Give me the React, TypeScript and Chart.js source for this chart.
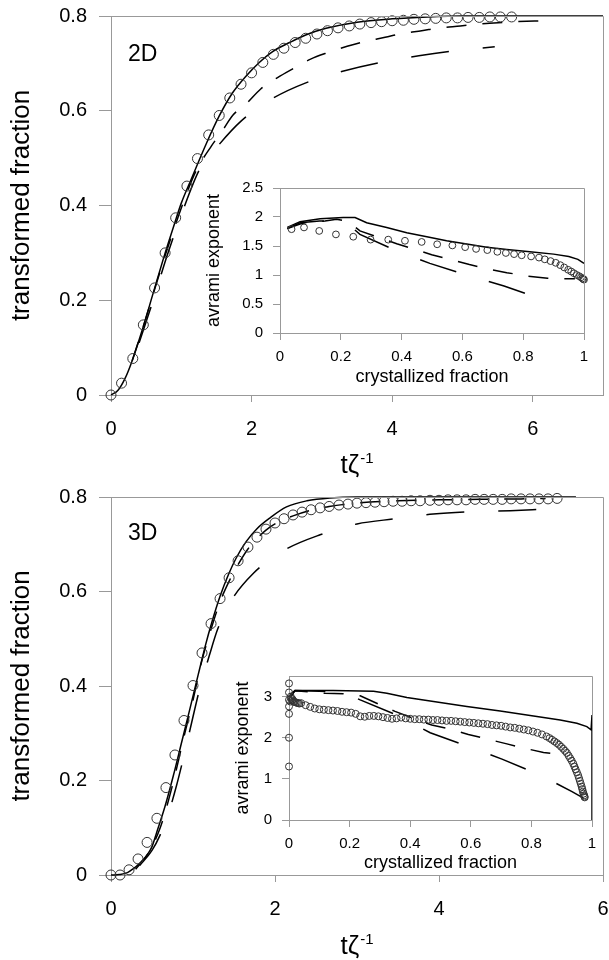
import React, { useEffect, useRef } from 'react';
import { Chart, registerables } from 'chart.js';

Chart.register(...registerables);

const FONT = '"Liberation Sans", Arial, Helvetica, sans-serif';

// ---------------- 2D main panel ----------------
const t2dCirc = [0, 0.15, 0.31, 0.46, 0.62, 0.77, 0.92, 1.08, 1.23, 1.39, 1.54, 1.69, 1.85, 2.0, 2.16, 2.31, 2.46, 2.62, 2.77, 2.93, 3.08, 3.23, 3.39, 3.54, 3.7, 3.85, 4.0, 4.16, 4.31, 4.47, 4.62, 4.77, 4.93, 5.08, 5.24, 5.39, 5.54, 5.7];
const f2dCirc = [0, 0.025, 0.077, 0.148, 0.226, 0.3, 0.374, 0.441, 0.499, 0.549, 0.59, 0.627, 0.656, 0.68, 0.702, 0.719, 0.732, 0.744, 0.753, 0.762, 0.769, 0.775, 0.779, 0.783, 0.786, 0.788, 0.79, 0.791, 0.793, 0.794, 0.795, 0.796, 0.796, 0.797, 0.797, 0.798, 0.798, 0.798];
const t2dSolid = [0, 0.1, 0.2, 0.3, 0.45, 0.6, 0.75, 0.9, 1.0, 1.14, 1.36, 1.54, 1.73, 1.92, 2.11, 2.3, 2.54, 2.77, 3.06, 3.5, 4.0, 4.5, 5.0, 7.0];
const f2dSolid = [0, 0.01, 0.035, 0.072, 0.14, 0.215, 0.29, 0.36, 0.405, 0.455, 0.532, 0.589, 0.638, 0.673, 0.702, 0.725, 0.744, 0.76, 0.774, 0.787, 0.794, 0.798, 0.8, 0.8];
const t2dMed = [0.3, 0.45, 0.6, 0.75, 0.9, 1.05, 1.2, 1.43, 1.59, 1.73, 1.92, 2.13, 2.37, 2.58, 2.84, 3.09, 3.36, 3.61, 3.9, 4.14, 4.42, 4.68, 4.97, 5.23, 5.51, 5.77, 6.15];
const f2dMed = [0.072, 0.14, 0.213, 0.285, 0.352, 0.415, 0.47, 0.526, 0.559, 0.59, 0.614, 0.646, 0.67, 0.688, 0.709, 0.723, 0.736, 0.746, 0.755, 0.763, 0.769, 0.775, 0.779, 0.783, 0.786, 0.788, 0.79];
const t2dLong = [0.4, 0.6, 0.8, 1.0, 1.26, 1.5, 1.85, 2.3, 2.79, 3.31, 3.83, 4.38, 4.92, 5.46];
const f2dLong = [0.11, 0.2, 0.295, 0.38, 0.476, 0.522, 0.578, 0.626, 0.66, 0.684, 0.702, 0.716, 0.727, 0.735];

// ---------------- 3D main panel ----------------
const t3dCirc = [0, 0.11, 0.22, 0.33, 0.44, 0.56, 0.67, 0.78, 0.89, 1.0, 1.11, 1.22, 1.33, 1.44, 1.55, 1.67, 1.78, 1.89, 2.0, 2.11, 2.22, 2.33, 2.44, 2.55, 2.66, 2.78, 2.89, 3.0, 3.11, 3.22, 3.33, 3.44, 3.55, 3.66, 3.77, 3.89, 4.0, 4.11, 4.22, 4.33, 4.44, 4.55, 4.66, 4.77, 4.88, 5.0, 5.11, 5.22, 5.33, 5.44];
const f3dCirc = [0, 0, 0.011, 0.034, 0.069, 0.12, 0.185, 0.254, 0.327, 0.401, 0.47, 0.532, 0.585, 0.629, 0.665, 0.694, 0.715, 0.732, 0.745, 0.754, 0.762, 0.768, 0.773, 0.777, 0.78, 0.783, 0.785, 0.787, 0.788, 0.789, 0.79, 0.791, 0.791, 0.792, 0.792, 0.793, 0.793, 0.794, 0.794, 0.794, 0.795, 0.795, 0.795, 0.795, 0.796, 0.796, 0.796, 0.796, 0.796, 0.797];
const t3dSolid = [0, 0.1, 0.2, 0.27, 0.35, 0.435, 0.5, 0.557, 0.66, 0.76, 0.86, 0.96, 1.065, 1.15, 1.23, 1.33, 1.43, 1.53, 1.65, 1.78, 1.94, 2.14, 2.39, 2.67, 3.0, 3.3, 5.67];
const f3dSolid = [0, 0.001, 0.005, 0.013, 0.025, 0.041, 0.06, 0.09, 0.146, 0.21, 0.28, 0.35, 0.425, 0.485, 0.535, 0.59, 0.635, 0.672, 0.706, 0.733, 0.756, 0.779, 0.792, 0.798, 0.8, 0.8, 0.8];
const t3dMed = [0.3, 0.45, 0.6, 0.75, 0.9, 1.0, 1.1, 1.22, 1.33, 1.45, 1.56, 1.67, 1.78, 1.89, 2.0, 2.22, 2.44, 2.66, 3.0, 3.5, 4.0, 4.5, 5.0, 5.3];
const f3dMed = [0.012, 0.045, 0.1, 0.19, 0.3, 0.37, 0.448, 0.52, 0.578, 0.625, 0.66, 0.69, 0.712, 0.73, 0.743, 0.76, 0.772, 0.78, 0.787, 0.792, 0.794, 0.795, 0.796, 0.797];
const t3dLong = [0.35, 0.5, 0.6, 0.7, 0.8, 0.9, 1.0, 1.09, 1.2, 1.3, 1.45, 1.74, 2.12, 2.55, 3.0, 3.47, 3.93, 4.4, 4.87, 5.27];
const f3dLong = [0.02, 0.052, 0.085, 0.13, 0.19, 0.26, 0.335, 0.4, 0.465, 0.52, 0.576, 0.639, 0.688, 0.72, 0.743, 0.754, 0.764, 0.769, 0.771, 0.774];

// ---------------- 2D inset ----------------
const c2dCirc = [0.038, 0.079, 0.129, 0.184, 0.241, 0.298, 0.356, 0.411, 0.466, 0.517, 0.567, 0.609, 0.645, 0.682, 0.715, 0.743, 0.77, 0.795, 0.826, 0.852, 0.871, 0.89, 0.907, 0.922, 0.935, 0.948, 0.958, 0.967, 0.976, 0.984, 0.99, 0.995, 0.998, 1.0];
const n2dCirc = [1.79, 1.82, 1.76, 1.7, 1.66, 1.61, 1.61, 1.59, 1.57, 1.53, 1.51, 1.48, 1.45, 1.43, 1.4, 1.38, 1.36, 1.34, 1.32, 1.3, 1.27, 1.24, 1.21, 1.17, 1.13, 1.09, 1.06, 1.03, 1.0, 0.98, 0.96, 0.94, 0.93, 0.92];
const c2dSolid = [0.024, 0.066, 0.132, 0.208, 0.247, 0.285, 0.351, 0.417, 0.483, 0.548, 0.614, 0.68, 0.746, 0.822, 0.9, 0.95, 0.98, 1.0];
const n2dSolid = [1.82, 1.92, 1.97, 1.99, 1.99, 1.9, 1.82, 1.73, 1.66, 1.59, 1.535, 1.48, 1.44, 1.4, 1.36, 1.32, 1.27, 1.2];
const c2dMed = [0.024, 0.066, 0.1, 0.148, 0.186, 0.208, 0.23, 0.263, 0.318, 0.384, 0.444, 0.499, 0.565, 0.623, 0.688, 0.746, 0.817, 0.88, 0.93, 0.97];
const n2dMed = [1.8, 1.88, 1.92, 1.93, 1.96, 1.94, 1.9, 1.76, 1.66, 1.54, 1.44, 1.35, 1.26, 1.18, 1.1, 1.04, 0.98, 0.945, 0.935, 0.935];
const c2dLong = [0.024, 0.066, 0.13, 0.2, 0.23, 0.263, 0.378, 0.493, 0.614, 0.737, 0.822, 0.858];
const n2dLong = [1.8, 1.9, 1.93, 1.94, 1.85, 1.7, 1.43, 1.2, 1.0, 0.81, 0.655, 0.6];

// ---------------- 3D inset ----------------
const c3dCirc = [0, 0, 0, 0, 0, 0, 0, 0.004, 0.006, 0.008, 0.01, 0.012, 0.015, 0.018, 0.022, 0.026, 0.03, 0.034,
  0.04, 0.055, 0.07, 0.085, 0.1, 0.115, 0.13, 0.145, 0.16, 0.175, 0.19, 0.205, 0.22, 0.235, 0.25, 0.265, 0.28, 0.295, 0.31, 0.325, 0.34, 0.355, 0.37, 0.385, 0.4, 0.415, 0.43, 0.445, 0.46, 0.475, 0.49, 0.505, 0.52, 0.535, 0.55, 0.565, 0.58, 0.595, 0.61, 0.625, 0.64, 0.655, 0.67, 0.685, 0.7, 0.715, 0.73, 0.745, 0.76, 0.775, 0.79, 0.805, 0.82, 0.835, 0.85,
  0.86, 0.868, 0.876, 0.884, 0.891, 0.898, 0.905, 0.911, 0.917, 0.923, 0.928, 0.933, 0.938, 0.942, 0.946, 0.95, 0.954, 0.957, 0.96, 0.963, 0.966, 0.968, 0.97, 0.972, 0.974, 0.975, 0.976];
const n3dCirc = [1.3, 2.0, 2.58, 2.76, 2.92, 3.1, 3.32, 2.88, 3.0, 2.95, 2.9, 2.93, 2.88, 2.87, 2.86, 2.85, 2.84, 2.83,
  2.84, 2.79, 2.75, 2.71, 2.69, 2.68, 2.67, 2.66, 2.65, 2.63, 2.62, 2.61, 2.58, 2.52, 2.51, 2.53, 2.53, 2.52, 2.5, 2.48, 2.46, 2.47, 2.49, 2.47, 2.46, 2.45, 2.45, 2.44, 2.44, 2.43, 2.43, 2.42, 2.41, 2.41, 2.4, 2.39, 2.38, 2.37, 2.36, 2.35, 2.34, 2.33, 2.31, 2.3, 2.29, 2.27, 2.25, 2.24, 2.22, 2.2, 2.18, 2.15, 2.12, 2.08, 2.03,
  1.99, 1.95, 1.91, 1.87, 1.83, 1.78, 1.73, 1.68, 1.63, 1.56, 1.5, 1.44, 1.37, 1.3, 1.23, 1.16, 1.09, 1.02, 0.95, 0.88, 0.81, 0.75, 0.69, 0.64, 0.6, 0.57, 0.55];
const c3dSolid = [0.003, 0.02, 0.146, 0.279, 0.323, 0.389, 0.477, 0.587, 0.697, 0.807, 0.895, 0.95, 0.983, 0.997, 1.0, 1.0];
const n3dSolid = [3.05, 3.15, 3.15, 3.13, 3.08, 2.98, 2.88, 2.76, 2.65, 2.53, 2.43, 2.35, 2.27, 2.19, 2.55, 0];
const c3dMed = [0.005, 0.02, 0.08, 0.119, 0.179, 0.235, 0.295, 0.35, 0.41, 0.471, 0.532, 0.592, 0.658, 0.719, 0.78, 0.84, 0.906];
const n3dMed = [3.0, 3.14, 3.11, 3.08, 3.07, 3.02, 2.82, 2.64, 2.47, 2.31, 2.21, 2.08, 1.96, 1.85, 1.74, 1.64, 1.58];
const c3dLong = [0.005, 0.02, 0.1, 0.18, 0.235, 0.356, 0.466, 0.587, 0.703, 0.824, 0.934, 0.972];
const n3dLong = [3.0, 3.15, 3.13, 3.1, 2.92, 2.55, 2.12, 1.8, 1.48, 1.11, 0.69, 0.53];

// ---------------- labels ----------------
const MAIN_Y_TITLE = 'transformed fraction';
const MAIN_X_TITLE = 'tζ';
const MAIN_X_SUP = '-1';
const INSET_X_TITLE = 'crystallized fraction';
const INSET_Y_TITLE = 'avrami exponent';

const pts = (xs: number[], ys: number[]) => xs.map((x, i) => ({ x, y: ys[i] }));
const fmt = (v: any) => String(Math.round(Number(v) * 1000) / 1000);

const MED_DASH = [20, 16];
const LONG_DASH = [38, 34];

function lineDs(xs: number[], ys: number[], dash: number[], smooth: boolean) {
  return {
    data: pts(xs, ys),
    showLine: true,
    pointRadius: 0,
    pointHoverRadius: 0,
    borderColor: '#000',
    backgroundColor: '#000',
    borderWidth: 1.5,
    borderDash: dash,
    fill: false,
    clip: false,
    tension: smooth ? 0.4 : 0,
    cubicInterpolationMode: smooth ? 'monotone' : 'default',
  };
}

function circleDs(xs: number[], ys: number[], r: number) {
  return {
    data: pts(xs, ys),
    showLine: false,
    pointRadius: r,
    pointHoverRadius: r,
    pointStyle: 'circle',
    pointBorderColor: '#333',
    pointBackgroundColor: 'rgba(0,0,0,0)',
    borderColor: '#333',
    backgroundColor: 'rgba(0,0,0,0)',
    pointBorderWidth: 1,
    borderWidth: 1,
    clip: false,
  };
}

const annotPlugin = {
  id: 'annot',
  afterDraw(chart: any, _args: any, o: any) {
    const ctx = chart.ctx;
    const a = chart.chartArea;
    ctx.save();
    ctx.strokeStyle = '#999';
    ctx.lineWidth = 1;
    ctx.setLineDash([]);
    const t = Math.round(a.top) + 0.5;
    const r = Math.round(a.right) + 0.5;
    ctx.beginPath();
    ctx.moveTo(a.left, t);
    ctx.lineTo(r, t);
    ctx.lineTo(r, a.bottom);
    ctx.stroke();
    ctx.fillStyle = '#000';
    if (o && o.panelLabel) {
      ctx.font = `23px ${FONT}`;
      ctx.textAlign = 'left';
      ctx.textBaseline = 'alphabetic';
      ctx.fillText(o.panelLabel, o.labelX, o.labelY);
    }
    if (o && o.xTitle) {
      const cx = (a.left + a.right) / 2;
      ctx.font = `26px ${FONT}`;
      const w1 = ctx.measureText(o.xTitle).width;
      ctx.font = `15px ${FONT}`;
      const w2 = ctx.measureText(o.xSup).width;
      const x0 = cx - (w1 + w2 + 1) / 2;
      ctx.textAlign = 'left';
      ctx.textBaseline = 'alphabetic';
      ctx.font = `26px ${FONT}`;
      ctx.fillText(o.xTitle, x0, o.xTitleY);
      ctx.font = `15px ${FONT}`;
      ctx.fillText(o.xSup, x0 + w1 + 1, o.xTitleY - 10);
    }
    ctx.restore();
  },
};

function mainConfig(datasets: any[], xMax: number, label: string, labelY: number) {
  return {
    type: 'scatter',
    data: { datasets },
    plugins: [annotPlugin],
    options: {
      animation: false,
      responsive: false,
      devicePixelRatio: 1,
      events: [],
      layout: { padding: { left: 0, top: 16, right: 5, bottom: 0 } },
      plugins: {
        legend: { display: false },
        tooltip: { enabled: false },
        annot: { panelLabel: label, labelX: 128, labelY, xTitle: MAIN_X_TITLE, xSup: MAIN_X_SUP, xTitleY: 473 },
      },
      scales: {
        x: {
          type: 'linear',
          min: 0,
          max: xMax,
          ticks: { stepSize: 2, includeBounds: false, color: '#000', font: { family: FONT, size: 20 }, padding: 15, maxRotation: 0, autoSkip: false, callback: fmt },
          grid: { drawOnChartArea: false, drawTicks: true, tickLength: 7, color: '#999', lineWidth: 1 },
          border: { display: true, color: '#999', width: 1 },
          afterFit: (s: any) => { s.height = 85; s.paddingLeft = 0; s.paddingRight = 0; },
        },
        y: {
          type: 'linear',
          min: 0,
          max: 0.8,
          ticks: { stepSize: 0.2, color: '#000', font: { family: FONT, size: 20 }, padding: 12, callback: fmt },
          grid: { drawOnChartArea: false, drawTicks: true, tickLength: 12, color: '#999', lineWidth: 1 },
          border: { display: true, color: '#999', width: 1 },
          title: { display: true, text: MAIN_Y_TITLE, color: '#000', font: { family: FONT, size: 26 }, padding: { top: 6, bottom: 0 } },
          afterFit: (s: any) => { s.width = 111; s.paddingTop = 0; s.paddingBottom = 0; },
        },
      },
    },
  };
}

function insetConfig(datasets: any[], yMax: number, yStep: number, dims: any) {
  return {
    type: 'scatter',
    data: { datasets },
    plugins: [annotPlugin],
    options: {
      animation: false,
      responsive: false,
      devicePixelRatio: 1,
      events: [],
      layout: { padding: { left: 0, top: dims.padTop, right: dims.padRight, bottom: 0 } },
      plugins: {
        legend: { display: false },
        tooltip: { enabled: false },
        annot: {},
      },
      scales: {
        x: {
          type: 'linear',
          min: 0,
          max: 1,
          ticks: { stepSize: 0.2, color: '#000', font: { family: FONT, size: 15 }, padding: 8, maxRotation: 0, autoSkip: false, callback: fmt },
          grid: { drawOnChartArea: false, drawTicks: true, tickLength: 7, color: '#999', lineWidth: 1 },
          border: { display: true, color: '#999', width: 1 },
          title: { display: true, text: INSET_X_TITLE, color: '#000', font: { family: FONT, size: 18 }, padding: { top: 0, bottom: dims.xTitlePad } },
          afterFit: (s: any) => { s.height = dims.xHeight; s.paddingLeft = 0; s.paddingRight = 0; },
        },
        y: {
          type: 'linear',
          min: 0,
          max: yMax,
          ticks: { stepSize: yStep, includeBounds: false, color: '#000', font: { family: FONT, size: 15 }, padding: dims.yTickPad, callback: fmt },
          grid: { drawOnChartArea: false, drawTicks: true, tickLength: 7, color: '#999', lineWidth: 1 },
          border: { display: true, color: '#999', width: 1 },
          title: { display: true, text: INSET_Y_TITLE, color: '#000', font: { family: FONT, size: 18 }, padding: { top: dims.yTitlePad, bottom: 0 } },
          afterFit: (s: any) => { s.width = dims.yWidth; s.paddingTop = 0; s.paddingBottom = 0; },
        },
      },
    },
  };
}

function ChartCanvas(props: { left: number; top: number; width: number; height: number; make: () => any }) {
  const ref = useRef<HTMLCanvasElement>(null);
  useEffect(() => {
    const chart = new Chart(ref.current as HTMLCanvasElement, props.make());
    return () => chart.destroy();
  }, []);
  return (
    <canvas
      ref={ref}
      width={props.width}
      height={props.height}
      style={{ position: 'absolute', left: props.left, top: props.top, width: props.width, height: props.height }}
    />
  );
}

export default function App() {
  const make2D = () => mainConfig([
    circleDs(t2dCirc, f2dCirc, 5),
    lineDs(t2dSolid, f2dSolid, [], true),
    lineDs(t2dMed, f2dMed, MED_DASH, true),
    lineDs(t2dLong, f2dLong, LONG_DASH, true),
  ], 7, '2D', 61);
  const make3D = () => mainConfig([
    circleDs(t3dCirc, f3dCirc, 5),
    lineDs(t3dSolid, f3dSolid, [], true),
    lineDs(t3dMed, f3dMed, MED_DASH, true),
    lineDs(t3dLong, f3dLong, LONG_DASH, true),
  ], 6, '3D', 59);
  const makeIn2D = () => insetConfig([
    circleDs(c2dCirc, n2dCirc, 3.4),
    lineDs(c2dSolid, n2dSolid, [], false),
    lineDs(c2dMed, n2dMed, MED_DASH, false),
    lineDs(c2dLong, n2dLong, LONG_DASH, false),
  ], 2.5, 0.5, { padTop: 13, padRight: 11, xHeight: 57, yWidth: 85, xTitlePad: 2, yTitlePad: 8, yTickPad: 10 });
  const makeIn3D = () => insetConfig([
    circleDs(c3dCirc, n3dCirc, 3.5),
    lineDs(c3dSolid, n3dSolid, [], false),
    lineDs(c3dMed, n3dMed, MED_DASH, false),
    lineDs(c3dLong, n3dLong, LONG_DASH, false),
  ], 3.5, 1, { padTop: 16, padRight: 13, xHeight: 65, yWidth: 89, xTitlePad: 11, yTitlePad: 32, yTickPad: 10 });

  return (
    <div style={{ position: 'absolute', left: 0, top: 0, width: 609, height: 960, background: '#fff', overflow: 'hidden' }}>
      <ChartCanvas left={0} top={0} width={609} height={480} make={make2D} />
      <ChartCanvas left={0} top={481} width={609} height={479} make={make3D} />
      <ChartCanvas left={195} top={175} width={400} height={215} make={makeIn2D} />
      <ChartCanvas left={200} top={660} width={405} height={225} make={makeIn3D} />
    </div>
  );
}
